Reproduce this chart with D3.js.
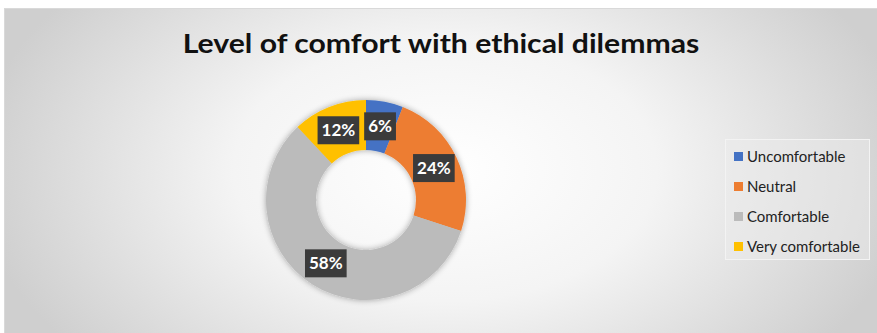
<!DOCTYPE html>
<html><head><meta charset="utf-8">
<script src="https://cdn.jsdelivr.net/npm/d3@7"></script>
<style>html,body{margin:0;padding:0;background:#fff;}svg{display:block;}</style>
</head><body>
<svg id="c" width="877" height="333"></svg>
<script>
const title = "Level of comfort with ethical dilemmas";
const categories = ["Uncomfortable", "Neutral", "Comfortable", "Very comfortable"];
const values = [6, 24, 58, 12];
const labels = ["6%", "24%", "58%", "12%"];
const colors = ["#4472C4", "#ED7D31", "#BBBBBB", "#FFC000"];

const svg = d3.select("#c");
const W = 877, H = 333;
const defs = svg.append("defs");
const rg = defs.append("radialGradient").attr("id","bg")
  .attr("gradientUnits","userSpaceOnUse").attr("cx",445).attr("cy",170).attr("r",470)
  .attr("gradientTransform","translate(445,170) scale(1,0.62) translate(-445,-170)");
rg.append("stop").attr("offset","0%").attr("stop-color","#ffffff");
rg.append("stop").attr("offset","45%").attr("stop-color","#f4f4f4");
rg.append("stop").attr("offset","100%").attr("stop-color","#cfcfcf");

const sh = defs.append("filter").attr("id","sh").attr("x","-20%").attr("y","-20%").attr("width","140%").attr("height","140%");
sh.append("feGaussianBlur").attr("in","SourceAlpha").attr("stdDeviation",3).attr("result","b");
sh.append("feComponentTransfer").attr("in","b").attr("result","o2").append("feFuncA").attr("type","linear").attr("slope",0.35);
const m = sh.append("feMerge"); m.append("feMergeNode").attr("in","o2"); m.append("feMergeNode").attr("in","SourceGraphic");

svg.append("rect").attr("x",4.5).attr("y",8.5).attr("width",W).attr("height",H)
  .attr("fill","url(#bg)").attr("stroke","#d9d9d9").attr("stroke-width",1);

// fit text horizontally (Calibri-like condensed look)
function fitX(sel, x, target){
  const w = sel.node().getComputedTextLength();
  const k = target / w;
  sel.attr("transform",`translate(${x},0) scale(${k},1) translate(${-x},0)`);
}

// title
const t = svg.append("text").attr("x",441).attr("y",53).attr("text-anchor","middle")
  .attr("font-family","Lato, 'Open Sans', sans-serif").attr("font-weight","bold")
  .attr("font-size",26).attr("fill","#111").text(title);
fitX(t, 441, 517);

// donut
const cx = 366, cy = 200, R = 100, r0 = 50;
const pie = d3.pie().sort(null).value(d => d)(values);
const arc = d3.arc().innerRadius(r0).outerRadius(R);
const g = svg.append("g").attr("transform",`translate(${cx},${cy})`);
g.append("g").attr("filter","url(#sh)").selectAll("path").data(pie).join("path")
  .attr("d",arc).attr("fill",(d,i)=>colors[i]);

const lg = g.selectAll("g.lab").data(pie).join("g").attr("class","lab")
  .attr("transform",d=>`translate(${arc.centroid(d)})`);
lg.each(function(d,i){
  const s = d3.select(this);
  const tx = s.append("text").attr("text-anchor","middle").attr("dy","0.36em")
    .attr("font-family","Lato, 'Open Sans', sans-serif").attr("font-weight","bold")
    .attr("font-size",17).attr("fill","#fff").text(labels[i]);
  const w = tx.node().getComputedTextLength() + 8;
  s.insert("rect","text").attr("x",-w/2).attr("y",-14).attr("width",w).attr("height",28).attr("fill","#3b3b3b");
});

// legend
svg.append("rect").attr("x",725.5).attr("y",139.5).attr("width",144).attr("height",120)
  .attr("fill","#ebebeb").attr("fill-opacity",0.5).attr("stroke","#f3f3f3");
const leg = svg.append("g").selectAll("g").data(categories).join("g")
  .attr("transform",(d,i)=>`translate(734,${152 + i*30})`);
leg.append("rect").attr("width",9).attr("height",9).attr("fill",(d,i)=>colors[i]);
const lt = leg.append("text").attr("x",13).attr("y",9.5).attr("font-family","Lato, 'Open Sans', sans-serif")
  .attr("font-size",14.5).attr("fill","#222").text(d=>d);
const k = 113 / lt.nodes()[3].getComputedTextLength();
lt.attr("transform",`translate(13,0) scale(${k},1) translate(-13,0)`);
</script>
</body></html>
